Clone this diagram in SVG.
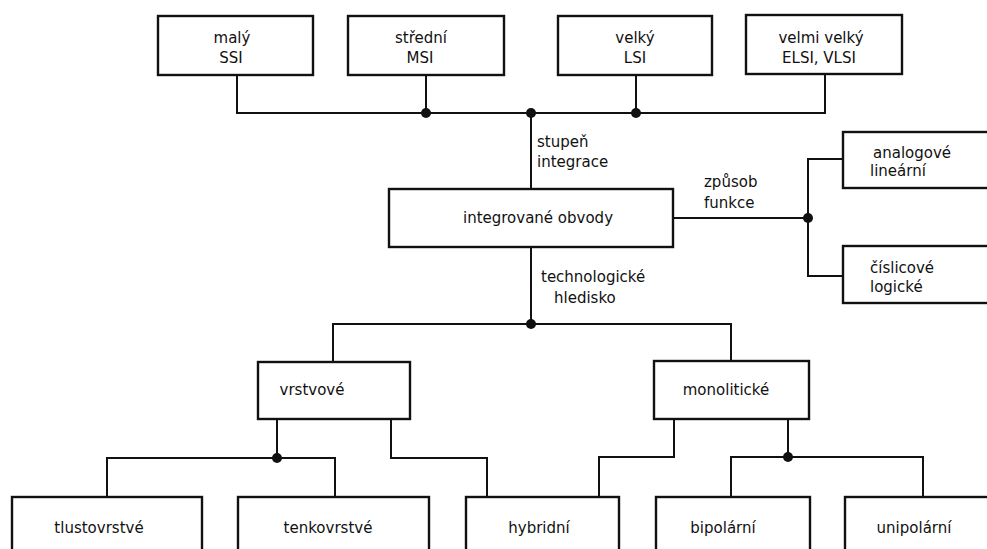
<svg xmlns="http://www.w3.org/2000/svg" width="987" height="549" viewBox="0 0 987 549">
<style>
.box{fill:#fff;stroke:#111;stroke-width:2.4}
.ln{fill:none;stroke:#111;stroke-width:2}
.dot{fill:#111}
text{font-family:"DejaVu Sans","Liberation Sans",sans-serif;font-size:15px;fill:#111}
.c{text-anchor:middle}
</style>
<rect width="987" height="549" fill="#fff"/>
<g id="connectors">
<path class="ln" d="M237 75V113H825V74"/>
<path class="ln" d="M426 75V113M636 75V113"/>
<path class="ln" d="M531 113V189"/>
<path class="ln" d="M673 218H808"/>
<path class="ln" d="M843 159H808V276H843"/>
<path class="ln" d="M531 247V324"/>
<path class="ln" d="M333 362V324H731V361"/>
<path class="ln" d="M277 419V458"/>
<path class="ln" d="M107 497V458H335V497"/>
<path class="ln" d="M391 419V458H487V497"/>
<path class="ln" d="M674 419V457H599V497"/>
<path class="ln" d="M788 419V457"/>
<path class="ln" d="M731 497V457H923V497"/>
<circle class="dot" cx="426" cy="113" r="5"/>
<circle class="dot" cx="531" cy="113" r="5"/>
<circle class="dot" cx="636" cy="113" r="5"/>
<circle class="dot" cx="808" cy="218" r="5"/>
<circle class="dot" cx="531" cy="324" r="5"/>
<circle class="dot" cx="277" cy="458" r="5"/>
<circle class="dot" cx="788" cy="457" r="5"/>
<text x="537" y="147">stupeň</text>
<text x="537" y="167">integrace</text>
<text x="704" y="187">způsob</text>
<text x="704" y="208">funkce</text>
<text x="541" y="282">technologické</text>
<text x="554" y="303">hledisko</text>
</g>
<g id="n-maly"><rect class="box" x="158" y="16" width="155" height="59"/><text class="c" x="232" y="43">malý</text><text class="c" x="231" y="63">SSI</text></g>
<g id="n-stredni"><rect class="box" x="348" y="16" width="156" height="59"/><text class="c" x="421" y="43">střední</text><text class="c" x="420" y="63">MSI</text></g>
<g id="n-velky"><rect class="box" x="558" y="16" width="154" height="59"/><text class="c" x="635" y="43">velký</text><text class="c" x="635" y="63">LSI</text></g>
<g id="n-velmivelky"><rect class="box" x="746" y="15" width="156" height="59"/><text class="c" x="821" y="43">velmi velký</text><text class="c" x="819" y="63">ELSI, VLSI</text></g>
<g id="n-io"><rect class="box" x="389" y="189" width="284" height="58"/><text class="c" x="538" y="223">integrované obvody</text></g>
<g id="n-analog"><rect class="box" x="843" y="132" width="160" height="56"/><text x="873" y="158">analogové</text><text x="870" y="176">lineární</text></g>
<g id="n-cislic"><rect class="box" x="843" y="246" width="160" height="57"/><text x="870" y="273">číslicové</text><text x="870" y="292">logické</text></g>
<g id="n-vrstvove"><rect class="box" x="258" y="362" width="152" height="57"/><text class="c" x="312" y="395">vrstvové</text></g>
<g id="n-monolit"><rect class="box" x="654" y="361" width="155" height="58"/><text class="c" x="726" y="395">monolitické</text></g>
<g id="n-tlusto"><rect class="box" x="12" y="497" width="190" height="70"/><text class="c" x="99" y="533">tlustovrstvé</text></g>
<g id="n-tenko"><rect class="box" x="238" y="497" width="191" height="70"/><text class="c" x="328" y="533">tenkovrstvé</text></g>
<g id="n-hybrid"><rect class="box" x="466" y="497" width="153" height="70"/><text class="c" x="539" y="533">hybridní</text></g>
<g id="n-bipol"><rect class="box" x="656" y="497" width="154" height="70"/><text class="c" x="723" y="533">bipolární</text></g>
<g id="n-unipol"><rect class="box" x="845" y="497" width="160" height="70"/><text class="c" x="914" y="533">unipolární</text></g>
</svg>
